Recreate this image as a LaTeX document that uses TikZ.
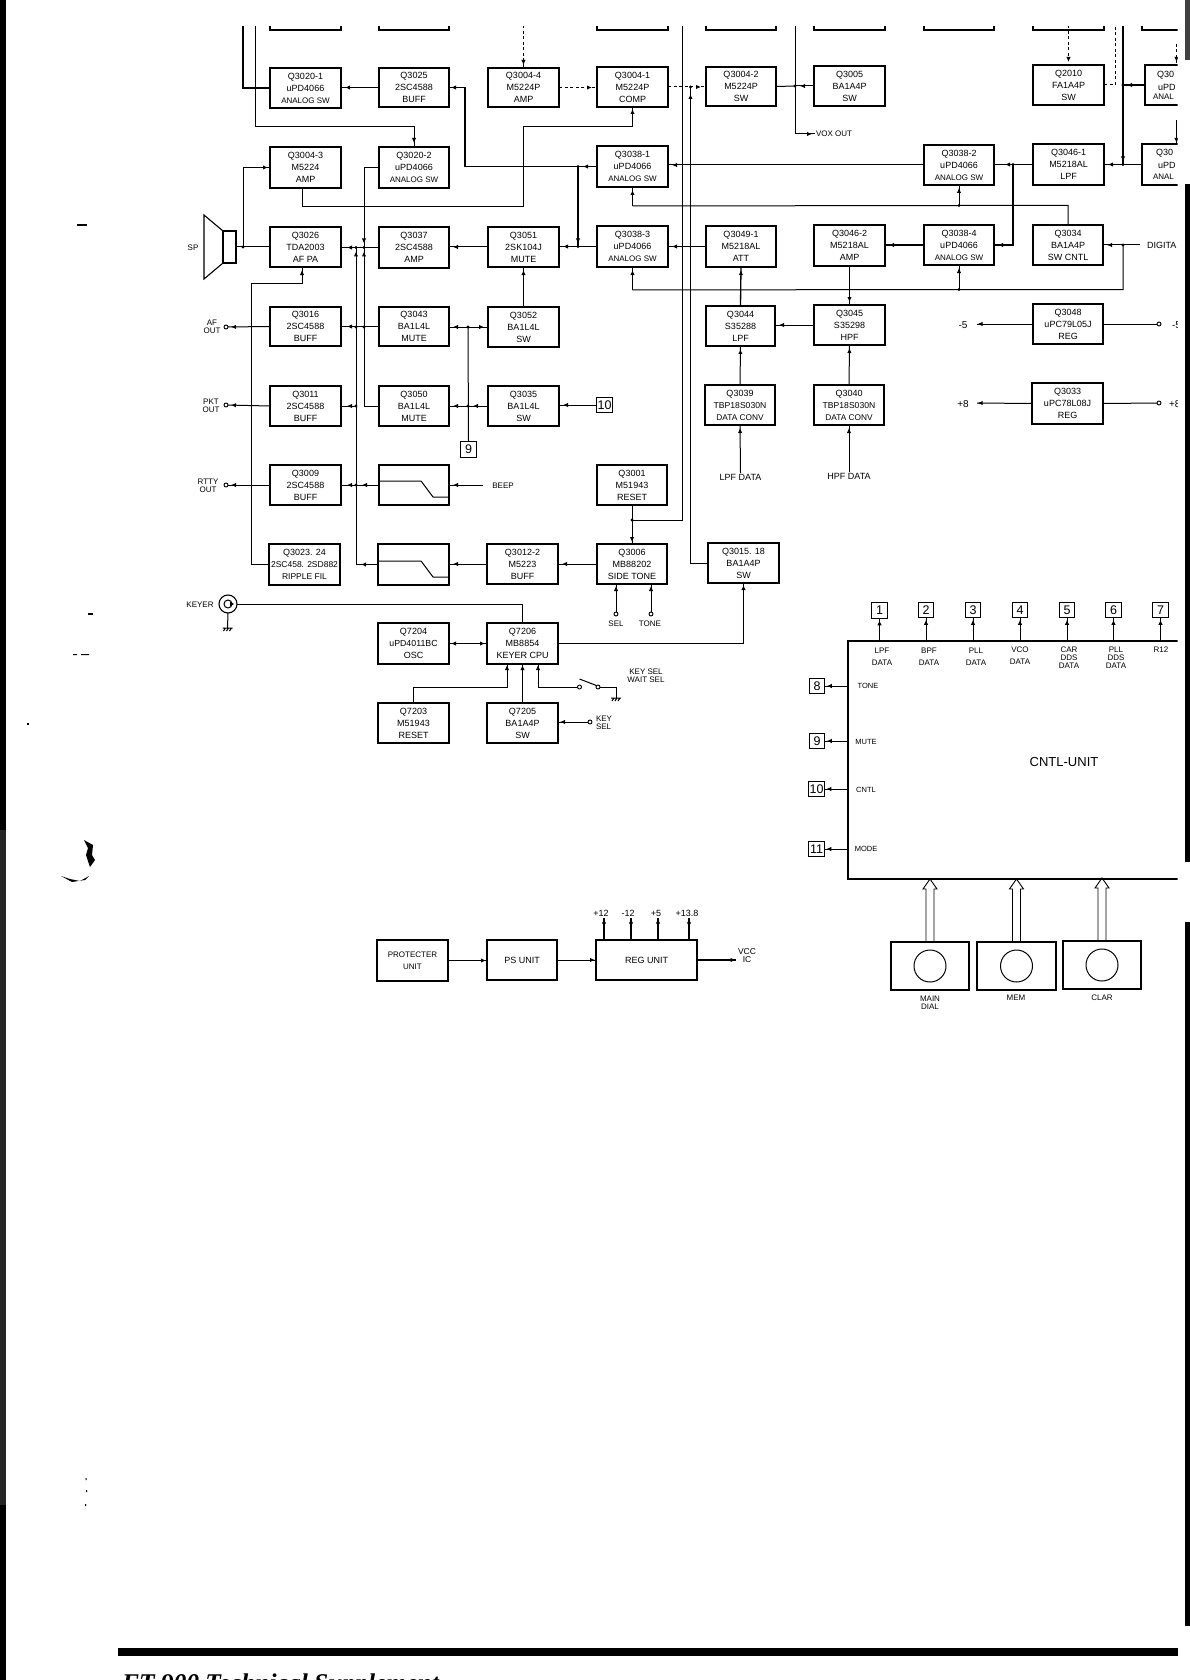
\documentclass[tikz,border=0pt]{standalone}
\usepackage{fontspec}
\setmainfont{Liberation Sans}
\newfontfamily\footfont{Liberation Serif}
\usetikzlibrary{arrows.meta,decorations.markings}
\newcommand\fsz[2]{\fontsize{#1}{#2}\selectfont}
\newcommand\anasw{{\fsz{8}{12}ANALOG SW}}
\newcommand\datacv{{\fsz{8.3}{12}DATA CONV}}
\newcommand\qbox[6]{%
  \pgfmathsetmacro\qcx{(#2+#4)/2}\pgfmathsetmacro\qcy{(#3+#5)/2}%
  \pgfmathsetmacro\qww{#4-#2}\pgfmathsetmacro\qhh{#5-#3}%
  \node[qb,minimum width=\qww pt,minimum height=\qhh pt] (#1) at (\qcx,\qcy) {#6};}
\newcommand\jn[1]{\fill (#1) circle (1.7);}
\newcommand\gnd[1]{\begin{scope}[shift={(#1)}]\draw[ln] (-5,0)--(5,0) (-4,3)--(-2,0) (-1,3)--(1,0) (2,3)--(4,0);\end{scope}}
\newcommand\hollow[1]{\draw[line width=.9pt] ([xshift=-4pt]#1.north) -- ++(0,-53) -- ++(-3,0) -- ++(7,-10) -- ++(7,10) -- ++(-3,0) -- ++(0,53);}
\tikzset{
  qb/.style={draw,line width=1.5pt,inner sep=0pt,outer sep=0pt,align=center,font=\fsz{9}{12}},
  ln/.style={line width=1pt},
  thk/.style={line width=1.8pt},
  dsh/.style={line width=1pt,dash pattern=on 3pt off 2.5pt},
  arr/.style={postaction={decorate,decoration={markings,mark=at position #1 with {\arrow{Latex[length=5pt,width=4.4pt]}}}}},
  arr/.default=-4pt,
  lab/.style={inner sep=1pt,outer sep=0pt,align=center,font=\fsz{8}{8}},
  term/.style={draw,circle,line width=.9pt,inner sep=0pt,outer sep=0pt,minimum size=4pt},
  num/.style={draw,line width=1.2pt,inner sep=0pt,outer sep=0pt,minimum width=15.5pt,minimum height=15.5pt,font=\fsz{12.5}{12.5}},
}
\begin{document}
\begin{tikzpicture}[x=1pt,y=-1pt]
\useasboundingbox (0,0) rectangle (1190,1680);
\clip (0,0) rectangle (1190,1680);
\fill[white] (0,0) rectangle (1190,1680);
% page edges
\fill[black] (0,0) rectangle (6,830);
\fill[black!85] (0,830) rectangle (5.5,1505);
\fill[black] (0,1505) rectangle (6,1680);
\fill[black!75] (1185,0) rectangle (1190,60);
\fill[black] (1185,184) rectangle (1190,862);
\fill[black] (1185,922) rectangle (1190,1626);
\fill[black] (118,1648) rectangle (1178,1656);
% specks
\fill (27,723) rectangle (29,724.5);
\fill (77,224.5) rectangle (87,226);
\fill (88,613) rectangle (93,615);
\fill (73,654) rectangle (77,655) (81,654) rectangle (89,655);
\fill (84,840) -- (93,845) -- (92,855) -- (95,860) -- (90,867) -- (86,855) -- (88,848) -- cycle;
\fill (61,876) -- (70,879) -- (80,881) -- (89,876) -- (85,880) -- (72,882) -- cycle;
\fill (85.5,1478) rectangle (86.5,1480) (86,1490) rectangle (87,1492) (85,1504) rectangle (86,1506);
\node[inner sep=0pt,outer sep=0pt,anchor=base west,font=\footfont\bfseries\itshape\fsz{25.5}{26}] (foot) at (122,1691) {FT-900 Technical Supplement};

\begin{scope}
\clip (100,27) rectangle (1177.5,1100);
% cut boxes along the top
\qbox{ra}{270}{-20}{341}{30}{}
\qbox{rb}{379}{-20}{449}{30}{}
\qbox{rc}{597}{-20}{668}{30}{}
\qbox{rd}{706}{-20}{776}{30}{}
\qbox{re}{814}{-20}{885}{30}{}
\qbox{rf}{924}{-20}{994}{30}{}
\qbox{rg}{1033}{-20}{1104}{30}{}
\qbox{rh}{1142}{-20}{1300}{30}{}
% row 1
\qbox{q3020a}{270}{68}{341}{108}{Q3020-1\\uPD4066\\\anasw}
\qbox{q3025}{379}{68}{449}{107}{Q3025\\2SC4588\\BUFF}
\qbox{q3004d}{488}{68}{559}{107}{Q3004-4\\M5224P\\AMP}
\qbox{q3004a}{597}{67}{668}{107}{Q3004-1\\M5224P\\COMP}
\qbox{q3004b}{706}{67}{776}{106}{Q3004-2\\M5224P\\SW}
\qbox{q3005}{814}{66}{885}{106}{Q3005\\BA1A4P\\SW}
\qbox{q2010}{1033}{65}{1104}{105}{Q2010\\FA1A4P\\SW}
\qbox{q30x}{1145}{65}{1300}{105}{}
% row 2
\qbox{q3004c}{270}{147}{341}{188}{Q3004-3\\M5224\\AMP}
\qbox{q3020b}{379}{147}{449}{188}{Q3020-2\\uPD4066\\\anasw}
\qbox{q3038a}{597}{146}{668}{187}{Q3038-1\\uPD4066\\\anasw}
\qbox{q3038b}{924}{145}{994}{185}{Q3038-2\\uPD4066\\\anasw}
\qbox{q3046a}{1033}{144}{1104}{185}{Q3046-1\\M5218AL\\LPF}
\qbox{q30y}{1142}{144}{1300}{185}{}
% row 3
\qbox{q3026}{270}{227}{341}{267}{Q3026\\TDA2003\\AF PA}
\qbox{q3037}{379}{227}{449}{268}{Q3037\\2SC4588\\AMP}
\qbox{q3051}{488}{227}{559}{267}{Q3051\\2SK104J\\MUTE}
\qbox{q3038c}{597}{226}{668}{267}{Q3038-3\\uPD4066\\\anasw}
\qbox{q3049a}{706}{226}{776}{267}{Q3049-1\\M5218AL\\ATT}
\qbox{q3046b}{814}{225}{885}{266}{Q3046-2\\M5218AL\\AMP}
\qbox{q3038d}{924}{225}{994}{265}{Q3038-4\\uPD4066\\\anasw}
\qbox{q3034}{1033}{225}{1103}{265}{Q3034\\BA1A4P\\SW CNTL}
% row 4
\qbox{q3016}{270}{307}{341}{346}{Q3016\\2SC4588\\BUFF}
\qbox{q3043}{379}{307}{449}{346}{Q3043\\BA1L4L\\MUTE}
\qbox{q3052}{488}{307}{559}{347}{Q3052\\BA1L4L\\SW}
\qbox{q3044}{706}{306}{775}{346}{Q3044\\S35288\\LPF}
\qbox{q3045}{814}{305}{885}{345}{Q3045\\S35298\\HPF}
\qbox{q3048}{1033}{304}{1103}{344}{Q3048\\uPC79L05J\\REG}
% row 5
\qbox{q3011}{270}{386}{341}{426}{Q3011\\2SC4588\\BUFF}
\qbox{q3050}{379}{386}{449}{426}{Q3050\\BA1L4L\\MUTE}
\qbox{q3035}{488}{386}{559}{426}{Q3035\\BA1L4L\\SW}
\qbox{q3039}{705}{385}{775}{425}{Q3039\\{\fsz{8.6}{12}TBP18S030N}\\\datacv}
\qbox{q3040}{814}{385}{884}{425}{Q3040\\{\fsz{8.6}{12}TBP18S030N}\\\datacv}
\qbox{q3033}{1032}{383}{1103}{424}{Q3033\\uPC78L08J\\REG}
% row 6
\qbox{q3009}{270}{465}{341}{505}{Q3009\\2SC4588\\BUFF}
\qbox{fa}{379}{465}{449}{505}{}
\qbox{q3001}{597}{465}{667}{505}{Q3001\\M51943\\RESET}
% row 7
\qbox{q3023}{269}{544}{340}{585}{Q3023. 24\\{\fsz{8.5}{12}2SC458. 2SD882}\\{\fsz{8.5}{12}RIPPLE FIL}}
\qbox{fb}{378}{544}{449}{585}{}
\qbox{q3012}{487}{544}{558}{584}{Q3012-2\\M5223\\BUFF}
\qbox{q3006}{597}{544}{667}{584}{Q3006\\MB88202\\SIDE TONE}
\qbox{q3015}{708}{543}{779}{583}{Q3015. 18\\BA1A4P\\SW}
% keyer
\qbox{q7204}{378}{623}{449}{664}{Q7204\\{\fsz{8.8}{12}uPD4011BC}\\OSC}
\qbox{q7206}{487}{623}{558}{664}{Q7206\\MB8854\\KEYER CPU}
\qbox{q7203}{378}{703}{449}{743}{Q7203\\M51943\\RESET}
\qbox{q7205}{487}{703}{558}{743}{Q7205\\BA1A4P\\SW}
% power
\qbox{prot}{377}{940}{448}{981}{{\fsz{8}{16}PROTECTER}\\{\fsz{8}{16}UNIT}}
\qbox{ps}{487}{940}{557}{980}{PS UNIT}
\qbox{reg}{596}{940}{697}{980}{REG UNIT}
% control unit
\qbox{cntl}{848}{641}{1300}{879}{}
\node[lab,font=\fsz{13}{13}] (lcntl) at (1064,762) {CNTL-UNIT};
\node[num] (n1) at (879.5,610.5) {1};
\node[num] (n2) at (926,610) {2};
\node[num] (n3) at (973,610) {3};
\node[num] (n4) at (1020,610) {4};
\node[num] (n5) at (1067,610) {5};
\node[num] (n6) at (1113.5,610) {6};
\node[num] (n7) at (1160.5,610) {7};
\node[num] (n8) at (817,686) {8};
\node[num] (n9) at (817,741) {9};
\node[num] (n10) at (816.5,789) {10};
\node[num] (n11) at (816.5,849) {11};
\node[num] (b9) at (468.5,449.5) {9};
\node[num] (b10) at (604.5,405) {10};
% knobs
\begin{scope}[qb/.append style={line width=1.1pt}]
\qbox{ka}{891}{942}{969}{990}{}
\qbox{kb}{977}{942}{1056}{990}{}
\qbox{kc}{1063}{941}{1141}{989}{}
\end{scope}
\node[draw,circle,line width=1pt,minimum size=32pt,inner sep=0pt] (ca) at (ka.center) {};
\node[draw,circle,line width=1pt,minimum size=32pt,inner sep=0pt] (cb) at (kb.center) {};
\node[draw,circle,line width=1pt,minimum size=32pt,inner sep=0pt] (cc) at (kc.center) {};
\hollow{ka}\hollow{kb}\hollow{kc}
% speaker, coax
\node[draw,line width=1.1pt,inner sep=0pt,outer sep=0pt,minimum width=13pt,minimum height=32pt] (spk) at (229.5,247) {};
\draw[line width=1.1pt] (spk.north west) -- (204,215) -- (204,279) -- (spk.south west);
\node[draw,circle,line width=1.1pt,minimum size=18pt,inner sep=0pt,outer sep=0pt] (coax) at (228,604) {};
\node[draw,circle,line width=1pt,minimum size=8pt,inner sep=0pt,outer sep=0pt] (coaxi) at (coax.center) {};
\fill (230,601.5) -- (234,604) -- (230,606.5) -- cycle;
% terminals
\node[term] (oa) at (226,327) {};
\node[term] (ob) at (226,405) {};
\node[term] (oc) at (226,485) {};
\node[term] (os) at (616,614) {};
\node[term] (ot) at (651,614) {};
\node[term] (oy) at (590,722) {};
\node[term] (sa) at (579.5,687) {};
\node[term] (sb) at (598,687) {};
\node[term] (om) at (1159,324) {};
\node[term] (op) at (1159,403) {};
% texts
\node[lab,font=\fsz{8}{8}] at (193,248) (lsp) {SP};
\node[lab] at (212,327) (laf) {AF\\OUT};
\node[lab] at (211,406) (lpk) {PKT\\OUT};
\node[lab] at (208,486) (lrt) {RTTY\\OUT};
\node[lab] at (503,486) (lbeep) {BEEP};
\node[lab] at (200,605) (lkey) {KEYER};
\node[lab] at (616,624) (lsel) {SEL};
\node[lab] at (650,624) (ltone) {TONE};
\node[lab,font=\fsz{8}{7.5}] at (646,675.5) (lwait) {KEY SEL\\WAIT SEL};
\node[lab,anchor=west,align=left] at (595,723) (lks) {KEY\\SEL};
\node[lab,anchor=west] at (815,134) (lvox) {VOX OUT};
\node[lab,anchor=west,font=\fsz{9}{9}] at (1146,245) (ldig) {DIGITA};
\node[lab,font=\fsz{9}{9}] at (740.5,477) (llpf) {LPF DATA};
\node[lab,font=\fsz{9}{9}] at (849,476) (lhpf) {HPF DATA};
\node[lab,font=\fsz{10}{10}] at (963,325) (lm5) {-5};
\node[lab,font=\fsz{10}{10}] at (963,404) (lp8) {+8};
\node[lab,anchor=west,font=\fsz{10}{10}] at (1171,325) (lm5b) {-5};
\node[lab,anchor=west,font=\fsz{10}{10}] at (1168,404) (lp8b) {+8};
\node[lab,anchor=west,font=\fsz{9}{12}] at (1156,75) (lx1) {Q30};
\node[lab,anchor=west,font=\fsz{9}{12}] at (1157,87) (lx2) {uPD};
\node[lab,anchor=west,font=\fsz{8}{12}] at (1152,97) (lx3) {ANAL};
\node[lab,anchor=west,font=\fsz{9}{12}] at (1155,153) (ly1) {Q30};
\node[lab,anchor=west,font=\fsz{9}{12}] at (1157,165) (ly2) {uPD};
\node[lab,anchor=west,font=\fsz{8}{12}] at (1152,177) (ly3) {ANAL};
\node[lab] at (882,657) (c1) {LPF\\[4pt]DATA};
\node[lab] at (929,657) (c2) {BPF\\[4pt]DATA};
\node[lab] at (976,657) (c3) {PLL\\[4pt]DATA};
\node[lab] at (1020,656) (c4) {VCO\\[4pt]DATA};
\node[lab] at (1069,658) (c5) {CAR\\DDS\\DATA};
\node[lab] at (1116,658) (c6) {PLL\\DDS\\DATA};
\node[lab] at (1161,650) (c7) {R12};
\node[lab,font=\fsz{7.5}{8}] at (868,686) (d8) {TONE};
\node[lab,font=\fsz{7.5}{8}] at (866,742) (d9) {MUTE};
\node[lab,font=\fsz{7.5}{8}] at (866,790) (d10) {CNTL};
\node[lab,font=\fsz{7.5}{8}] at (866,849) (d11) {MODE};
\node[lab] at (930,1003) (ka1) {MAIN\\DIAL};
\node[lab] at (1016,998) (ka2) {MEM};
\node[lab] at (1102,998) (ka3) {CLAR};
\node[lab,font=\fsz{9}{9}] at (601,913) (r1) {+12};
\node[lab,font=\fsz{9}{9}] at (628,913) (r2) {-12};
\node[lab,font=\fsz{9}{9}] at (656,913) (r3) {+5};
\node[lab,font=\fsz{9}{9}] at (687,913) (r4) {+13.8};
\node[lab,font=\fsz{8.5}{8}] at (747,956) (lvcc) {VCC\\IC};
% free ends
\coordinate (tA) at (243,20); \coordinate (tB) at (255,20); \coordinate (tC) at (523.5,20);
\coordinate (tD) at (682.5,20); \coordinate (tE) at (795,20); \coordinate (tF) at (1068.5,20);
\coordinate (tG) at (1115,20); \coordinate (tH) at (1123,20); \coordinate (tI) at (1176.5,44);
\coordinate (tJ) at (1176.5,120); \coordinate (tL) at (483,485); \coordinate (tM) at (977,324);
\coordinate (tN) at (977,403); \coordinate (tO) at (1140,245);
\coordinate (jA) at (690.5,87); \coordinate (jB) at (632,520); \coordinate (jC) at (795,86);
\coordinate (jD) at (1123,164.5); \coordinate (jE) at (1013,164.5); \coordinate (jF) at (578,166.5);
\coordinate (jG) at (578,246.5); \coordinate (jH) at (243,247); \coordinate (jI) at (364,247.5);
\coordinate (jJ) at (356,247.5); \coordinate (jK) at (468,327); \coordinate (jL) at (468,406);
\coordinate (jM) at (364,327); \coordinate (jN) at (356,327); \coordinate (jO) at (356,406);
\coordinate (jP) at (356,485); \coordinate (jQ) at (1123,85); \coordinate (jR) at (959,205.5);
\coordinate (jS) at (959,289.5); \coordinate (jT) at (1123,245);
\coordinate (gA) at (227.5,628); \coordinate (gB) at (616,698);
\coordinate (uA) at (604,918); \coordinate (uB) at (631,918); \coordinate (uC) at (658,918); \coordinate (uD) at (689,918);
\coordinate (uE) at (736,960);
% filter curves
\draw[ln] (fa.west |- 0,481) -- (421,481) -- (433,497) -- (fa.east |- 0,497);
\draw[ln] (fb.west |- 0,561) -- (421,561) -- (433,577) -- (fb.east |- 0,577);
% connectors: top rows
\draw[thk] (tA) |- (q3020a.west);
\draw[ln,arr] (tB) -- (255,127) -| (q3020b.north);
\draw[thk,arr] (q3025.west) -- (q3025.west -| q3020a.east);
\draw[dsh,arr=-3pt] (tC) -- (q3004d.north);
\draw[dsh,arr=-5pt] (q3004d.east) -- (q3004d.east -| q3004a.west);
\draw[dsh,arr=-5pt] (q3004a.east) -- (q3004a.east -| q3004b.west);
\draw[ln,arr=-7pt] (q3015.west) -| (jA);
\draw[ln] (tD) |- (jB);
\draw[ln,arr=-2pt] (q3001.south) -- (q3006.north);
\draw[ln] (q3004b.east) -- (jC);
\draw[ln,arr=-5pt] (q3005.west) -- (jC);
\draw[ln,arr=-3pt] (tE) |- (lvox.west);
\draw[dsh,arr=-3pt] (tF) -- (q2010.north);
\draw[dsh] (q2010.east) -| (tG);
\draw[thk,arr=-3pt] (tH) -- (jD);
\draw[thk,arr=-4pt] (q30x.west) -- (jQ);
\draw[ln,arr] (q30y.west) -- (q30y.west -| q3046a.east);
\draw[dsh,arr=-3pt] (tI) -- (tI |- q30x.north);
\draw[line width=1.2pt,arr=-1pt] (tJ) -- (tJ |- q30y.north);
\draw[ln,arr=-11pt] (q3046a.west) -- (q3046a.west -| q3038b.east);
\draw[thk,arr=-4pt] (jE) |- (q3038d.east);
\draw[ln,arr] (q3038b.west) -- (q3038b.west -| q3038a.east);
\draw[thk,arr=-5pt] (q3038a.west) -- (jF);
\draw[thk,arr=-2pt] (jF) -- (465,166.5) |- (q3025.east);
\draw[thk,arr=-3pt] (jF) -- (jG);
\draw[ln,arr] (q3038c.west) -- (q3038c.west -| q3051.east);
\draw[ln,arr] (q3051.west) -- (q3051.west -| q3037.east);
\draw[ln,arr=-6pt] (q3037.west) -- (q3037.west -| q3026.east);
\draw[ln] (spk.east) -- (q3026.west);
\draw[ln,arr=-2pt] (jH) |- (q3004c.west);
\draw[ln,arr=-2pt] ([xshift=-3.5pt]q3004c.south) |- (523,207) -- (523,127) -| (q3004a.south);
\draw[ln,arr=-4pt] (q3020b.west) -| (jI);
\draw[ln,arr=-4pt] (q3050.west) -| (jI);
\draw[ln,arr=-4pt] (fb.west) -| (jJ);
\draw[ln,arr=-5pt] (fb.west) -- (fb.west -| jJ);
\draw[ln,arr=-6pt] (q3043.west) -- (q3043.west -| q3016.east);
\draw[ln,arr=-6pt] (jO) -- (jO -| q3011.east);
\draw[ln,arr=-6pt] (fa.west) -- (fa.west -| q3009.east);
\draw[ln,arr=-6pt] (fa.west) -- (jP);
\draw[ln,arr=-3pt] (q3016.west) -- (oa);
\draw[ln,arr=-3pt] (q3011.west) -- (ob);
\draw[ln,arr=-3pt] (q3009.west) -- (oc);
\draw[ln,arr=-3pt] (q3023.west) -- (251,564.5) -- (251,283) -| ([xshift=-3.5pt]q3026.south);
\draw[ln,arr=-3pt] (q3052.north) -- (q3051.south);
\draw[ln,arr] (jK) -- (jK -| q3043.east);
\draw[ln,arr] (jK) -- (jK -| q3052.west);
\draw[ln] (jK) -- (b9.north);
\draw[ln,arr] (q3035.west) -- (q3035.west -| q3050.east);
\draw[ln,arr=-5pt] (q3035.west) -- (jL);
\draw[ln,arr] (b10.west) -- (b10.west -| q3035.east);
\draw[ln,arr] (tL) -- (tL -| fa.east);
\draw[ln,arr] (q3012.west) -- (q3012.west -| fb.east);
\draw[ln,arr] (q3006.west) -- (q3006.west -| q3012.east);
\draw[ln,arr=-2pt] (os) -- (os |- q3006.south);
\draw[ln,arr=-2pt] (ot) -- (ot |- q3006.south);
\draw[line width=1.3pt,arr=-2pt] (q7206.east) -| (q3015.south);
\draw[ln,arr=-2pt] (q7206.west) -- (q7206.west -| q7204.east);
\draw[ln,arr=-2pt] (q7204.east) -- (q7204.east -| q7206.west);
\draw[ln] (coax.east) -| (q7206.north);
\draw[ln] (coax.south) -- (gA); \gnd{gA}
\draw[ln,arr=-1pt] (q7203.north) -- (413.5,687) -| ([xshift=-15.5pt]q7206.south);
\draw[ln,arr=-1pt] (q7205.north) -- (q7206.south);
\draw[ln,arr=-1pt] (sa.west) -| ([xshift=15.5pt]q7206.south);
\draw[ln] ([yshift=8pt]sa.center) -- (sb.north west);
\draw[ln] (sb.east) -| (gB); \gnd{gB}
\draw[ln,arr=-2pt] (oy) -- (oy -| q7205.east);
\draw[ln,arr=-3pt] (q3038a.south |- 0,206) -- (q3038a.south);
\draw[ln] (q3038a.south |- 0,206) -- (jR) -| (q3034.north);
\draw[ln,arr=-3pt] (jR) -- (jR |- q3038b.south);
\draw[ln,arr=-3pt] (q3038c.south |- 0,290) -- (q3038c.south);
\draw[ln] (q3038c.south |- 0,290) -- (jS) -| (jT);
\draw[ln,arr=-3pt] (jS) -- (jS |- q3038d.south);
\draw[ln,arr] (q3049a.west) -- (q3049a.west -| q3038c.east);
\draw[line width=1.3pt,arr=-3pt] (q3044.north) -- (q3049a.south);
\draw[line width=1.3pt,arr] (q3038d.west) -- (q3038d.west -| q3046b.east);
\draw[line width=1.5pt,arr=-3pt] (q3046b.south) -- (q3045.north);
\draw[ln,arr] (q3045.west) -- (q3045.west -| q3044.east);
\draw[ln,arr=-4pt] (tO) -- (tO -| q3034.east);
\draw[ln,arr=-3pt] (q3039.north) -- (q3044.south);
\draw[ln,arr=-3pt] (q3040.north) -- (q3045.south);
\draw[ln,arr=-3pt] (llpf.north) -- (q3039.south);
\draw[ln,arr=-3pt] (lhpf.north) -- (q3040.south);
\draw[ln,arr=-.5pt] (q3048.west) -- (tM);
\draw[ln] (q3048.east) -- (om);
\draw[ln,arr=-.5pt] (q3033.west) -- (tN);
\draw[ln] (q3033.east) -- (op);
% control unit stubs
\foreach \k in {n1,n2,n3,n4,n5,n6,n7}{\draw[ln,arr=-2pt] (\k.south |- cntl.north) -- (\k.south);}
\foreach \k in {n8,n9,n10,n11}{\draw[ln,arr=-2pt] (\k.east -| cntl.west) -- (\k.east);}
% power
\draw[line width=1.2pt,arr=-1pt] (prot.east) -- (prot.east -| ps.west);
\draw[ln,arr=-1pt] (ps.east) -- (ps.east -| reg.west);
\draw[line width=1.2pt,arr=-.5pt] (reg.east) -- (uE);
\foreach \k in {uA,uB,uC,uD}{\draw[line width=1.1pt,arr=-.5pt] (\k |- reg.north) -- (\k);}
% junctions
\foreach \k in {jA,jB,jC,jD,jE,jF,jG,jH,jI,jJ,jK,jL,jM,jN,jO,jP,jQ,jR,jS,jT}{\jn{\k}}
\end{scope}
\end{tikzpicture}
\end{document}
